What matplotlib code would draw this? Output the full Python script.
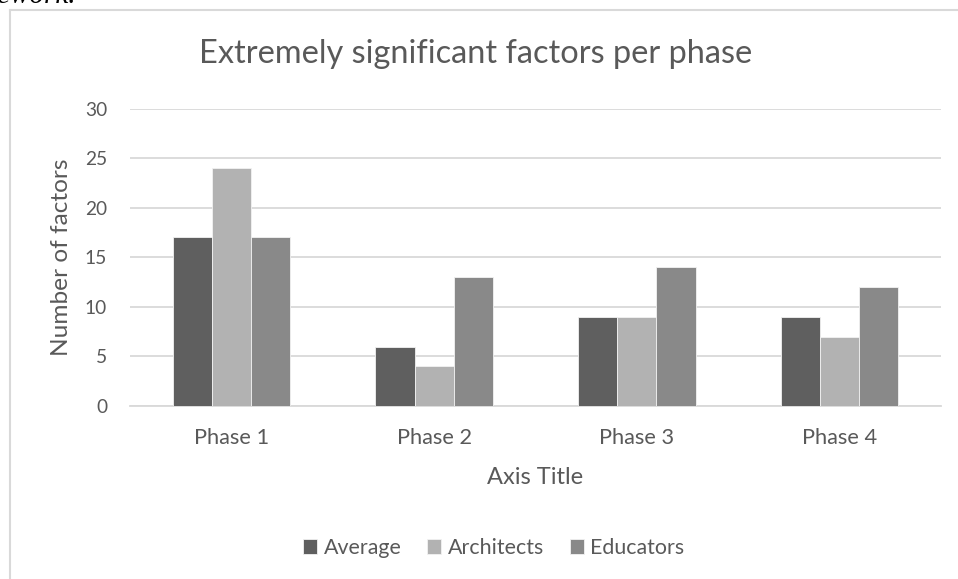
import matplotlib
matplotlib.use("Agg")
import matplotlib.pyplot as plt
from matplotlib.lines import Line2D
import numpy as np

# ── Data ──────────────────────────────────────────────────────────────────────
phases = ["Phase 1", "Phase 2", "Phase 3", "Phase 4"]
series_names = ["Average", "Architects", "Educators"]
average = [17, 6, 9, 9]
architects = [24, 4, 9, 7]
educators = [17, 13, 14, 12]
y_ticks = [0, 5, 10, 15, 20, 25, 30]

colors = ["#5f5f5f", "#b2b2b2", "#898989"]
text_col = "#595959"
grid_col = "#d9d9d9"
W, H = 958, 579

plt.rcParams["font.family"] = ["Lato", "DejaVu Sans"]

fig = plt.figure(figsize=(W / 100, H / 100), dpi=100)
fig.patch.set_facecolor("white")
renderer = fig.canvas.get_renderer()


def fit(txt, target_px, **kw):
    # font size that gives the text the width (in pixels) seen in the reference
    t = fig.text(0, 0, txt, fontsize=10, **kw)
    w = t.get_window_extent(renderer).width
    t.remove()
    return 10 * target_px / w


def fy(py):
    return 1 - py / H


# chart frame (left + top edges visible)
fig.add_artist(Line2D([10 / W, 10 / W], [0, fy(10)], transform=fig.transFigure,
                      color=grid_col, linewidth=1.5))
fig.add_artist(Line2D([10 / W, 1], [fy(10), fy(10)], transform=fig.transFigure,
                      color=grid_col, linewidth=1.5))

# cut-off text of the surrounding document
fig.text(76 / W, fy(3), "framework.", ha="right", va="baseline",
         fontsize=21, family="Liberation Serif", style="italic", color="black")

ax = fig.add_axes([130 / W, fy(406), (941 - 130) / W, (406 - 108.5) / H])

x = np.arange(len(phases))
bw = 0.193
for i, (vals, name) in enumerate(zip([average, architects, educators], series_names)):
    ax.bar(x + (i - 1) * bw, vals, width=bw, color=colors[i], edgecolor="#f2f2f2",
           linewidth=0.6, label=name, zorder=3)

xt_size = fit("Phase 1", 75)
yt_size = fit("30", 22)
lab_size = fit("Axis Title", 96)

ax.set_xlim(-0.5, len(phases) - 0.5)
ax.set_ylim(0, 30)
ax.set_yticks(y_ticks)
ax.set_xticks(x)
ax.set_xticklabels(phases)
ax.yaxis.grid(True, color=grid_col, linewidth=1.3, zorder=0)
ax.set_axisbelow(True)
for s in ["top", "right", "left"]:
    ax.spines[s].set_visible(False)
ax.spines["bottom"].set_color(grid_col)
ax.spines["bottom"].set_linewidth(1.3)
ax.tick_params(axis="both", length=0, colors=text_col)
ax.tick_params(axis="x", labelsize=xt_size, pad=16)
ax.tick_params(axis="y", labelsize=yt_size, pad=16.5)

ax.set_ylabel("Number of factors", color=text_col, fontsize=fit("Number of factors", 197),
              va="center")
ax.yaxis.set_label_coords((61 - 130) / (941 - 130), 0.5)
ax.set_xlabel("Axis Title", color=text_col, fontsize=lab_size, va="center")
ax.xaxis.set_label_coords(0.5, (406 - 478) / (406 - 108.5))

fig.text(476 / W, fy(54), "Extremely significant factors per phase",
         ha="center", va="center", fontsize=fit("Extremely significant factors per phase", 552),
         color=text_col)

leg_size = fit("Architects", 96)
px = leg_size * 100 / 72
fig.legend(loc="center", bbox_to_anchor=(494 / W, fy(548)), ncol=3, frameon=False,
           fontsize=leg_size, labelcolor=text_col, handlelength=14 / px, handleheight=14 / px,
           handletextpad=7 / px, columnspacing=25 / px)

plt.savefig("out.png", dpi=100, facecolor="white")
plt.close()
